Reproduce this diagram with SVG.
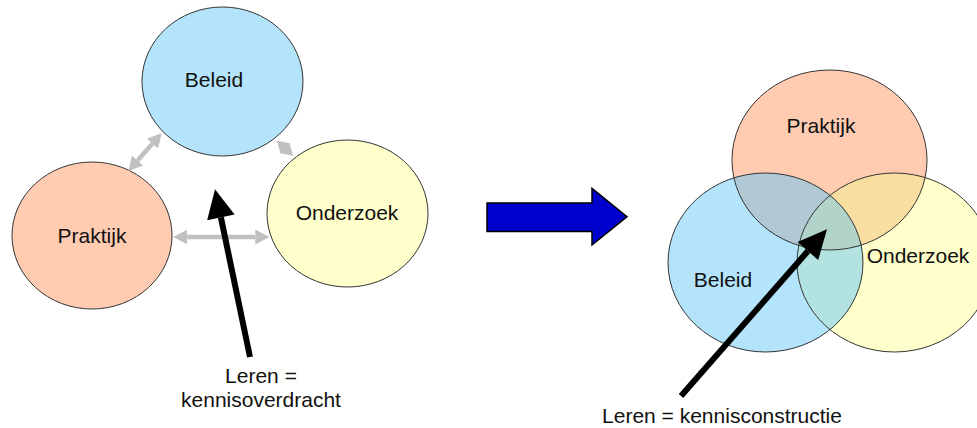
<svg xmlns="http://www.w3.org/2000/svg" width="977" height="428" viewBox="0 0 977 428">
  <style>
    .lbl { font-family: "Liberation Sans", Arial, sans-serif; font-size: 21px; fill: #111; text-anchor: middle; }
    .outline { fill: none; stroke: #333; stroke-width: 1; }
    .node { stroke: #333; stroke-width: 1; }
    .gray { stroke: #C0C0C0; stroke-width: 4.5; fill: none; }
    .grayhead { fill: #C0C0C0; }
    .black { stroke: #000; stroke-width: 6; fill: none; }
  </style>
  <defs>
    <marker id="gh" markerUnits="userSpaceOnUse" markerWidth="14" markerHeight="16" viewBox="0 -8 14 16" refX="0" refY="0" orient="auto-start-reverse">
      <path d="M0,-7.5 L14,0 L0,7.5 z" fill="#C0C0C0"/>
    </marker>
    <clipPath id="cpP"><ellipse cx="829.5" cy="160" rx="97.5" ry="90"/></clipPath>
    <clipPath id="cpB"><ellipse cx="765.5" cy="262.5" rx="97.5" ry="89.5"/></clipPath>
  </defs>

  <!-- Left diagram nodes -->
  <g id="beleid-left">
    <ellipse class="node" cx="222.5" cy="81.5" rx="80.5" ry="74.5" fill="#B4E4FC"/>
    <text class="lbl" x="214" y="87">Beleid</text>
  </g>
  <g id="praktijk-left">
    <ellipse class="node" cx="92" cy="235.5" rx="80" ry="73.5" fill="#FFCCB2"/>
    <text class="lbl" x="92" y="243">Praktijk</text>
  </g>
  <g id="onderzoek-left">
    <ellipse class="node" cx="347.5" cy="213.5" rx="80.5" ry="73.5" fill="#FFFFCC"/>
    <text class="lbl" x="347" y="220">Onderzoek</text>
  </g>

  <!-- Right diagram nodes -->
  <g id="praktijk-right">
    <ellipse cx="829.5" cy="160" rx="97.5" ry="90" fill="#FFCCB2"/>
  </g>
  <g id="beleid-right">
    <ellipse cx="765.5" cy="262.5" rx="97.5" ry="89.5" fill="#B4E4FC"/>
  </g>
  <g id="onderzoek-right">
    <ellipse cx="894.5" cy="262.5" rx="97.5" ry="89.5" fill="#FFFFCC"/>
  </g>
  <g id="overlaps">
    <ellipse cx="765.5" cy="262.5" rx="97.5" ry="89.5" fill="#B0C9D5" clip-path="url(#cpP)"/>
    <ellipse cx="894.5" cy="262.5" rx="97.5" ry="89.5" fill="#F9DEA2" clip-path="url(#cpP)"/>
    <ellipse cx="894.5" cy="262.5" rx="97.5" ry="89.5" fill="#B2E3E0" clip-path="url(#cpB)"/>
    <g clip-path="url(#cpP)">
      <ellipse cx="894.5" cy="262.5" rx="97.5" ry="89.5" fill="#B2D3CA" clip-path="url(#cpB)"/>
    </g>
  </g>
  <g id="outlines">
    <ellipse class="outline" cx="829.5" cy="160" rx="97.5" ry="90"/>
    <ellipse class="outline" cx="765.5" cy="262.5" rx="97.5" ry="89.5"/>
    <ellipse class="outline" cx="894.5" cy="262.5" rx="97.5" ry="89.5"/>
    <text class="lbl" x="821" y="133">Praktijk</text>
    <text class="lbl" x="723" y="287">Beleid</text>
    <text class="lbl" x="918" y="263">Onderzoek</text>
  </g>

  <!-- Connectors -->
  <g id="connectors">
    <line class="gray" x1="187.3" y1="237" x2="255.3" y2="237" marker-start="url(#gh)" marker-end="url(#gh)"/>
    <line class="gray" x1="137.6" y1="160.5" x2="152.4" y2="143.8" marker-start="url(#gh)" marker-end="url(#gh)"/>
    <polygon class="grayhead" points="276.7,140.5 280.7,153.8 290.3,143.6"/>
    <polygon class="grayhead" points="293.3,156 279.7,152.9 289.3,142.7"/>

    <line class="black" x1="250" y1="357" x2="220.9" y2="217.4"/>
    <polygon points="215,189.3 234.6,214.5 207.2,220.3" fill="#000"/>

    <line class="black" x1="681" y1="396" x2="807.9" y2="251.1"/>
    <polygon points="827,229.3 818.2,260.1 797.6,242.1" fill="#000"/>

    <polygon points="487,203 592,203 592,188.3 627,216.7 592,245 592,231.5 487,231.5" fill="#0000CC" stroke="#000" stroke-width="1.5"/>
  </g>

  <g id="labels">
    <text class="lbl" x="261" y="383">Leren =</text>
    <text class="lbl" x="261" y="407">kennisoverdracht</text>
    <text class="lbl" x="722" y="423">Leren = kennisconstructie</text>
  </g>
</svg>
